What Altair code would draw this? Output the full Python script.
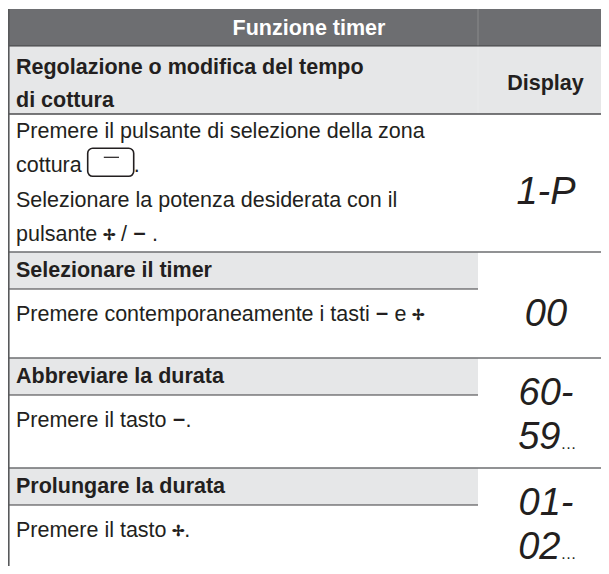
import altair as alt
import pandas as pd

# ---------------- content ----------------
TITLE = "Funzione timer"
HEAD_LEFT = ["Regolazione o modifica del tempo", "di cottura"]
HEAD_RIGHT = "Display"
STEP1 = [
    [("Premere il pulsante di selezione della zona", "r")],
    [("cottura ", "r"), ("", "btn"), (".", "r")],
    [("Selezionare la potenza desiderata con il", "r")],
    [("pulsante ", "r"), ("✢", "plus"), (" / ", "r"), ("−", "minus"), (" .", "r")],
]
STEP1_DISPLAY = [("1-P", "")]
SECTIONS = ["Selezionare il timer", "Abbreviare la durata", "Prolungare la durata"]
SECTION_TEXT = [
    [("Premere contemporaneamente i tasti ", "r"), ("−", "minus"), (" e ", "r"), ("✢", "plus")],
    [("Premere il tasto ", "r"), ("−", "minus"), (".", "r")],
    [("Premere il tasto ", "r"), ("✢", "plus"), (".", "r")],
]
SECTION_DISPLAY = [
    [("00", "")],
    [("60-", ""), ("59", "…")],
    [("01-", ""), ("02", "…")],
]

# ---------------- layout (page pixels) ----------------
W, H = 593, 558
X_BORDER, X_TEXT, X_DIV, X_END = 8.8, 16, 478, 601
Y_TOP, Y_HEAD, Y_SUB, Y_STEP1_END = 9, 46, 114, 252
SEC_TOPS = [252, 358, 468]
SEC_ENDS = [358, 468, 566]
BAND_H = 37
FS = 21.5
LINE_H = 34.3
DISP_FS = 38
DISP_CX = 546
DOT_FS = 16
BTN_W, BTN_UP, BTN_DOWN = 46, 24, 4

C_HEAD = "#6d6e71"
C_BAND = "#e6e7e8"
C_TEXT = "#231f20"

# Arial / Liberation Sans advance widths (per 1000 em)
REG = dict(zip(" ./-abcdefghijklmnopqrstuvwxyzPS0123456789",
               [278, 278, 278, 333, 556, 556, 500, 556, 556, 278, 556, 556, 222, 222, 500, 222, 833, 556,
                556, 556, 556, 333, 500, 278, 556, 500, 722, 500, 500, 500, 667, 667] + [556] * 10))
SYM_W = {"plus": 0.55, "minus": 0.6}


def tw(s, size):
    return sum(REG.get(c, 556) for c in s) * size / 1000


reg_rows, sym_rows, btn_rows, btn_line_rows = [], [], [], []


def lay_line(segs, y):
    cur = X_TEXT
    for txt, kind in segs:
        if kind == "r":
            lead = len(txt) - len(txt.lstrip(" "))
            core = txt.strip(" ")
            reg_rows.append(dict(x=cur + tw(" " * lead, FS), y=y, t=core))
            cur += tw(txt, FS)
        elif kind == "btn":
            btn_rows.append(dict(x=cur, x2=cur + BTN_W, y=y - BTN_UP, y2=y + BTN_DOWN))
            btn_line_rows.append(dict(x=cur + BTN_W * 0.35, x2=cur + BTN_W * 0.68, y=y - BTN_UP + 9))
            cur += BTN_W
        else:
            w = SYM_W[kind] * FS
            sym_rows.append(dict(x=cur + w / 2, y=y + (0 if kind == "minus" else -1),
                                 t=txt, s=(FS if kind == "minus" else FS * 0.72)))
            cur += w


for i, segs in enumerate(STEP1):
    lay_line(segs, 138 + i * LINE_H)

bold_rows = [dict(x=X_TEXT, y=Y_HEAD + 28, t=HEAD_LEFT[0], a="left"),
             dict(x=X_TEXT, y=Y_HEAD + 61, t=HEAD_LEFT[1], a="left"),
             dict(x=(X_DIV + X_END) / 2 + 6, y=90, t=HEAD_RIGHT, a="center")]
band_rows = []
rule_rows = [dict(x=8, x2=X_END, y=Y_HEAD, c="#404042", w=1.0),
             dict(x=8, x2=X_END, y=Y_SUB, c="#4d4d4f", w=1.4)]
for i, (lab, segs) in enumerate(zip(SECTIONS, SECTION_TEXT)):
    top = SEC_TOPS[i]
    band_rows.append(dict(x=8, x2=X_DIV, y=top, y2=top + BAND_H))
    bold_rows.append(dict(x=X_TEXT, y=top + 25, t=lab, a="left"))
    lay_line(segs, top + BAND_H + 32)
    rule_rows.append(dict(x=8, x2=X_END, y=top, c="#6d6e71", w=1.4))
    rule_rows.append(dict(x=8, x2=X_DIV, y=top + BAND_H, c="#3a3a3c", w=1.2))

disp_rows, dot_rows = [], []


def lay_display(items, top, bottom):
    if len(items) == 1:
        ys = [(top + bottom) / 2 + 21]
    else:
        ys = [top + 47, top + 91]
    for (main, tail), y in zip(items, ys):
        total = tw(main, DISP_FS) + (tw("...", DOT_FS) if tail else 0)
        left = DISP_CX - total / 2
        disp_rows.append(dict(x=left, y=y, t=main))
        if tail:
            dot_rows.append(dict(x=left + tw(main, DISP_FS), y=y, t=tail))


lay_display(STEP1_DISPLAY, Y_SUB, Y_STEP1_END)
for i, items in enumerate(SECTION_DISPLAY):
    lay_display(items, SEC_TOPS[i], SEC_ENDS[i])

# ---------------- chart ----------------
XS = alt.Scale(domain=[8, 8 + W], nice=False, zero=False)
YS = alt.Scale(domain=[8, 8 + H], nice=False, zero=False, reverse=True)


def X(f="x"):
    return alt.X(f"{f}:Q", scale=XS, axis=None)


def Y(f="y"):
    return alt.Y(f"{f}:Q", scale=YS, axis=None)


head = alt.Chart(pd.DataFrame([dict(x=8, x2=X_END, y=Y_TOP, y2=Y_HEAD)])).mark_rect(
    color=C_HEAD).encode(x=X(), x2="x2:Q", y=Y(), y2="y2:Q")
sub = alt.Chart(pd.DataFrame([dict(x=8, x2=X_END, y=Y_HEAD, y2=Y_SUB)])).mark_rect(
    color=C_BAND).encode(x=X(), x2="x2:Q", y=Y(), y2="y2:Q")
bands = alt.Chart(pd.DataFrame(band_rows)).mark_rect(color=C_BAND).encode(
    x=X(), x2="x2:Q", y=Y(), y2="y2:Q")

divider = alt.Chart(pd.DataFrame([dict(x=X_DIV, y=Y_TOP, y2=Y_SUB)])).mark_rule(
    color="#ffffff", opacity=0.2, strokeWidth=1).encode(x=X(), y=Y(), y2="y2:Q")

rules = alt.Chart(pd.DataFrame(rule_rows)).mark_rule().encode(
    x=X(), x2="x2:Q", y=Y(),
    color=alt.Color("c:N", scale=None),
    strokeWidth=alt.StrokeWidth("w:Q", scale=None))

border = alt.Chart(pd.DataFrame([dict(x=X_BORDER, y=Y_TOP, y2=8 + H)])).mark_rule(
    color="#58595b", strokeWidth=1.6).encode(x=X(), y=Y(), y2="y2:Q")

title = alt.Chart(pd.DataFrame([dict(x=309, y=35, t=TITLE)])).mark_text(
    font="Liberation Sans", fontSize=FS, fontWeight="bold", color="#ffffff",
    align="center", baseline="alphabetic").encode(x=X(), y=Y(), text="t:N")

bold_l = alt.Chart(pd.DataFrame([r for r in bold_rows if r["a"] == "left"])).mark_text(
    font="Liberation Sans", fontSize=FS, fontWeight="bold", color=C_TEXT,
    align="left", baseline="alphabetic").encode(x=X(), y=Y(), text="t:N")
bold_c = alt.Chart(pd.DataFrame([r for r in bold_rows if r["a"] == "center"])).mark_text(
    font="Liberation Sans", fontSize=FS, fontWeight="bold", color=C_TEXT,
    align="center", baseline="alphabetic").encode(x=X(), y=Y(), text="t:N")

regular = alt.Chart(pd.DataFrame(reg_rows)).mark_text(
    font="Liberation Sans", fontSize=FS, color=C_TEXT,
    align="left", baseline="alphabetic").encode(x=X(), y=Y(), text="t:N")

symbols = alt.Chart(pd.DataFrame(sym_rows)).mark_text(
    font="Liberation Sans", fontWeight="bold", color=C_TEXT,
    align="center", baseline="alphabetic").encode(
    x=X(), y=Y(), text="t:N", size=alt.Size("s:Q", scale=None))

button = alt.Chart(pd.DataFrame(btn_rows)).mark_rect(
    fill="transparent", stroke=C_TEXT, strokeWidth=1.6, cornerRadius=5).encode(
    x=X(), x2="x2:Q", y=Y(), y2="y2:Q")
button_line = alt.Chart(pd.DataFrame(btn_line_rows)).mark_rule(
    color=C_TEXT, strokeWidth=1.2).encode(x=X(), x2="x2:Q", y=Y())

display = alt.Chart(pd.DataFrame(disp_rows)).mark_text(
    font="Liberation Sans", fontSize=DISP_FS, fontStyle="italic", color=C_TEXT,
    align="left", baseline="alphabetic").encode(x=X(), y=Y(), text="t:N")
dots = alt.Chart(pd.DataFrame(dot_rows)).mark_text(
    font="Liberation Sans", fontSize=DOT_FS, color=C_TEXT,
    align="left", baseline="alphabetic").encode(x=X(), y=Y(), text="t:N")

chart = alt.layer(
    head, sub, bands, divider, rules, border, title, bold_l, bold_c,
    regular, symbols, button, button_line, display, dots
).properties(
    width=W, height=H, padding=0, autosize=alt.AutoSizeParams(type="none")
).configure_view(stroke=None)

chart.save("out.html", embed_options={"renderer": "svg", "actions": False})
